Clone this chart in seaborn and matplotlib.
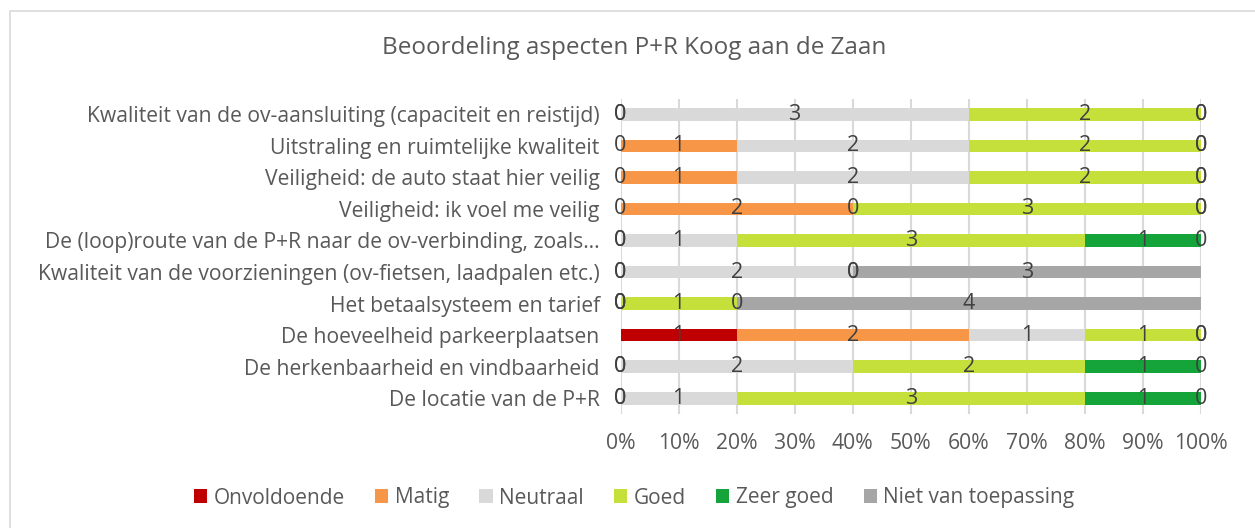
import numpy as np
import pandas as pd
import matplotlib
matplotlib.use("Agg")
import matplotlib.pyplot as plt
from matplotlib.patches import Rectangle, Patch
import seaborn as sns

categories = [
    "Kwaliteit van de ov-aansluiting (capaciteit en reistijd)",
    "Uitstraling en ruimtelijke kwaliteit",
    "Veiligheid: de auto staat hier veilig",
    "Veiligheid: ik voel me veilig",
    "De (loop)route van de P+R naar de ov-verbinding, zoals\u2026",
    "Kwaliteit van de voorzieningen (ov-fietsen, laadpalen etc.)",
    "Het betaalsysteem en tarief",
    "De hoeveelheid parkeerplaatsen",
    "De herkenbaarheid en vindbaarheid",
    "De locatie van de P+R",
]
series_names = ["Onvoldoende", "Matig", "Neutraal", "Goed", "Zeer goed", "Niet van toepassing"]
onvoldoende = [0, 0, 0, 0, 0, 0, 0, 1, 0, 0]
matig       = [0, 1, 1, 2, 0, 0, 0, 2, 0, 0]
neutraal    = [3, 2, 2, 0, 1, 2, 0, 1, 2, 1]
goed        = [2, 2, 2, 3, 3, 0, 1, 1, 2, 3]
zeer_goed   = [0, 0, 0, 0, 1, 0, 0, 0, 1, 1]
nvt         = [0, 0, 0, 0, 0, 3, 4, 0, 0, 0]
colors = ["#C00000", "#F79646", "#D9D9D9", "#C5E03B", "#14A43A", "#A6A6A6"]
xtick_labels = ["0%", "10%", "20%", "30%", "40%", "50%", "60%", "70%", "80%", "90%", "100%"]

vals = np.array([onvoldoende, matig, neutraal, goed, zeer_goed, nvt], dtype=float).T
totals = vals.sum(axis=1, keepdims=True)
pct = vals / totals * 100
cum = np.cumsum(pct, axis=1)

df = pd.DataFrame(cum, columns=series_names)
df["cat"] = categories

plt.rcParams["font.family"] = ["Open Sans", "DejaVu Sans"]
fig = plt.figure(figsize=(12.55, 5.28), dpi=100)
ax = fig.add_axes([620.5 / 1255, 1 - 414 / 528, 580.5 / 1255, 315.5 / 528])

text_col = "#595959"
for i in range(len(series_names) - 1, -1, -1):
    sns.barplot(data=df, x=series_names[i], y="cat", order=categories,
                color=colors[i], width=0.4, ax=ax, orient="h",
                saturation=1, linewidth=0, zorder=2)

# data labels (Excel shows every value, zeros included)
for r in range(len(categories)):
    for i in range(len(series_names)):
        start = cum[r, i] - pct[r, i]
        xc = start + pct[r, i] / 2
        ax.text(xc, r, f"{int(vals[r, i])}", ha="center", va="center",
                fontsize=15.5, color="#404040", zorder=5)

ax.set_xlim(0, 100)
ax.set_ylim(len(categories) - 0.5, -0.5)
ax.set_xticks(np.arange(0, 101, 10))
ax.set_xticklabels(xtick_labels)
ax.set_xlabel("")
ax.set_ylabel("")
ax.tick_params(axis="both", length=0, labelsize=15.2, labelcolor=text_col)
ax.tick_params(axis="x", pad=14)
ax.tick_params(axis="y", pad=15)
ax.grid(axis="x", color="#D9D9D9", linewidth=1.5, zorder=0)
ax.set_axisbelow(True)
for s in ax.spines.values():
    s.set_visible(False)

fig.text(634 / 1255, 1 - 48 / 528, "Beoordeling aspecten P+R Koog aan de Zaan",
         ha="center", va="center", fontsize=17.5, color=text_col)

handles = [Patch(facecolor=c, edgecolor="none") for c in colors]
fig.legend(handles, series_names, loc="center", bbox_to_anchor=(634 / 1255, 1 - 498 / 528),
           ncol=6, frameon=False, fontsize=15, labelcolor=text_col,
           handlelength=0.65, handleheight=0.65, handletextpad=0.3, columnspacing=1.45)

fig.patches.append(Rectangle((10 / 1255, -0.1), 1.2, 1.1 - 11 / 528,
                             transform=fig.transFigure, fill=False,
                             edgecolor="#D9D9D9", linewidth=1.2))

fig.savefig("out.png", dpi=100, facecolor="white")
